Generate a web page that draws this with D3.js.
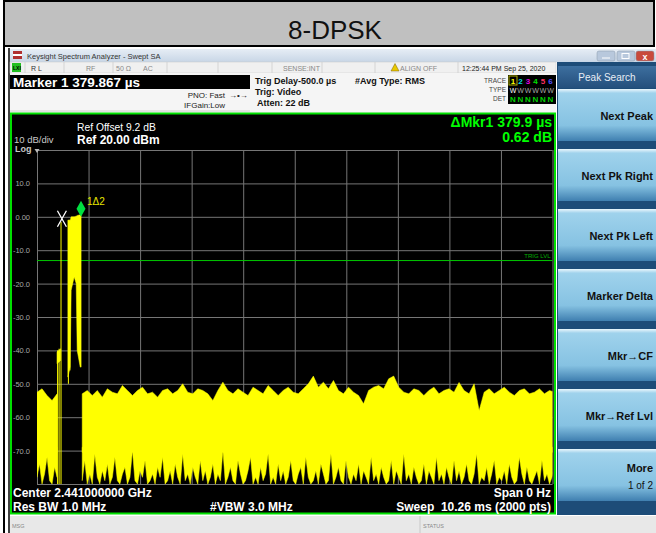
<!DOCTYPE html>
<html>
<head>
<meta charset="utf-8">
<script src="https://cdn.jsdelivr.net/npm/d3@7"></script>
<style>
  body { margin: 0; background: #fff; }
  svg { display: block; font-family: "Liberation Sans", Arial, sans-serif; }
</style>
</head>
<body>
<div class="container"></div>
<script>
// Sweep settings
const sweepMs = 10.26;
const refLevel = 20;
const bottomLevel = -80;

// Axis ticks / grid
const yTicks = [10, 0, -10, -20, -30, -40, -50, -60, -70];
const yTickLabels = ['10.0', '0.00', '-10.0', '-20.0', '-30.0', '-40.0', '-50.0', '-60.0', '-70.0'];
const yGridDb = [20, 10, 0, -10, -20, -30, -40, -50, -60, -70, -80];
const xGridMs = [0, 1.026, 2.052, 3.078, 4.104, 5.13, 6.156, 7.182, 8.208, 9.234, 10.26];

// Noise floor, upper edge: one reading every 0.1 ms (dBm)
const floorHiStepMs = 0.1;
const floorHi = [-52.5, -51.5, -53.5, -55, -53, null, null, null, null,
  -53, -52, -53.5, -52, -54, -51.5, -52.5, -53, -50.5, -52, -53.5,
  -52, -51, -53, -52.5, -54, -52, -51.5, -53, -52, -50,
  -52.5, -53, -51.5, -52, -53, -55, -52, -49.5, -52, -53,
  -51.5, -52.5, -53.5, -51, -52, -53, -50.5, -52, -53.5, -52,
  -51, -52.5, -53, -51.5, -50, -47.7, -51, -49.5, -51.5, -49,
  -52, -53, -51, -52.5, -53.5, -56, -52, -51, -50.5, -51.5,
  -48.5, -47.7, -51, -52.5, -53, -51.5, -52, -53.5, -52, -51,
  -53, -52, -51.5, -52.5, -49.6, -52, -53, -50, -58, -52.5,
  -51.5, -53, -52, -51, -52.5, -53.5, -52, -51.5, -53, -52.5,
  -51.5, -53, -52, -52.5];

// Noise floor: level down to which the band is solid
const floorSolidDb = -69;

// Noise floor, lower edge: one reading every 0.05 ms (dBm)
const floorLoStepMs = 0.05;
const floorLo = [-78, -74, -80, -77, -72, -79, -80, -75, -78,
  null, null, null, null, null, null, null, null, null,
  -79, -73, -80, -77, -80, -71, -78, -80, -76, -79,
  -74, -80, -78, -72, -79, -80, -77, -75, -80, -78,
  -70, -79, -80, -76, -78, -73, -80, -79, -77, -80,
  -75, -78, -72, -80, -79, -76, -80, -74, -78, -80,
  -71, -79, -77, -80, -75, -78, -80, -73, -79, -76,
  -80, -78, -74, -80, -77, -79, -70, -80, -78, -75,
  -79, -80, -73, -77, -80, -79, -76, -72, -80, -78,
  -80, -75, -79, -77, -71, -80, -78, -80, -74, -79,
  -76, -80, -78, -73, -79, -80, -77, -75, -80, -72,
  -78, -80, -79, -76, -80, -74, -77, -80, -79, -71,
  -80, -78, -75, -79, -80, -73, -78, -80, -77, -79,
  -74, -80, -76, -78, -80, -72, -79, -77, -80, -75,
  -78, -80, -79, -73, -80, -76, -78, -80, -71, -79,
  -77, -80, -75, -78, -80, -79, -74, -80, -76, -78,
  -80, -72, -79, -77, -80, -75, -78, -80, -73, -79,
  -76, -80, -78, -74, -79, -80, -77, -71, -80, -78,
  -79, -75, -80, -77, -73, -80, -78, -79, -76, -80,
  -74, -78, -80, -79, -72, -77, -80, -75, -79, -80,
  -78, -76, -80, -73, -79, -77, -80, -78, -75];

// The burst itself (ms, upper / lower edge in dBm)
const burstMs = [0.398, 0.472, 0.472, 0.615, 0.66, 0.68, 0.74, 0.78, 0.80, 0.86, 0.878];
const burstHi = [-40.5, -39.5, null, -1, -1, 0, 0, 0.2, 0.4, 0.6, 0.6];
const burstLo = [-44, -43, null, -48, -45, -22, -18, -20, -40, -45, -45];

// Thin single lines around the burst
const spikeMs = [0.41, 0.44, 0.478, 0.625, 0.655];
const spikeTop = [-40, -39.5, -1.5, -1, -1];
const spikeBottom = [-80, -80, -80, -50, -46];

const trigLevel = -13.1;
const refMarker = [0.496, -0.6];
const deltaMarker = [0.876, 0.0];

// Screen texts
const softkeys = ['Next Peak', 'Next Pk Right', 'Next Pk Left', 'Marker Delta', 'Mkr\u2192CF', 'Mkr\u2192Ref Lvl', 'More'];
const traceNums = ['1', '2', '3', '4', '5', '6'];
const traceColors = ['#ffff00', '#00e0e0', '#e000e0', '#00e000', '#ff3060', '#5050ff'];

// Variables
const width = 656;
const height = 533;
const plotLeft = 37, plotRight = 552.5, plotTop = 150, plotBottom = 484;
const yellow = '#ffff00';
const green = '#00ff00';

const svg = d3.select('.container')
  .append('svg')
  .attr('width', width)
  .attr('height', height);

const defs = svg.append('defs');

// gradient for the softkeys
const keyGrad = defs.append('linearGradient')
  .attr('id', 'keyGrad').attr('x1', 0).attr('y1', 0).attr('x2', 0).attr('y2', 1);
keyGrad.append('stop').attr('offset', '0%').attr('stop-color', '#eaf6fc');
keyGrad.append('stop').attr('offset', '8%').attr('stop-color', '#9fd2ec');
keyGrad.append('stop').attr('offset', '70%').attr('stop-color', '#86c2e2');
keyGrad.append('stop').attr('offset', '100%').attr('stop-color', '#3f7fb0');

const headGrad = defs.append('linearGradient')
  .attr('id', 'headGrad').attr('x1', 0).attr('y1', 0).attr('x2', 0).attr('y2', 1);
headGrad.append('stop').attr('offset', '0%').attr('stop-color', '#3d6f9f');
headGrad.append('stop').attr('offset', '100%').attr('stop-color', '#244f7c');

const barGrad = defs.append('linearGradient')
  .attr('id', 'barGrad').attr('x1', 0).attr('y1', 0).attr('x2', 0).attr('y2', 1);
barGrad.append('stop').attr('offset', '0%').attr('stop-color', '#e6edf5');
barGrad.append('stop').attr('offset', '100%').attr('stop-color', '#c8d6e6');

defs.append('clipPath').attr('id', 'plotClip')
  .append('rect')
  .attr('x', plotLeft).attr('y', plotTop)
  .attr('width', plotRight - plotLeft).attr('height', plotBottom - plotTop);

// Title cell
svg.append('rect')
  .attr('x', 4).attr('y', 1).attr('width', 650).attr('height', 45)
  .attr('fill', '#c0c0c0').attr('stroke', '#000').attr('stroke-width', 2);
svg.append('text')
  .attr('x', 335).attr('y', 39)
  .attr('text-anchor', 'middle')
  .attr('font-size', 26)
  .attr('fill', '#111')
  .text('8-DPSK');

// table borders down the sides
svg.append('line').attr('x1', 4).attr('x2', 4).attr('y1', 46).attr('y2', height)
  .attr('stroke', '#000').attr('stroke-width', 2);
svg.append('line').attr('x1', 9).attr('x2', 9).attr('y1', 48).attr('y2', height)
  .attr('stroke', '#000').attr('stroke-width', 1.5);

// Window title bar
svg.append('rect').attr('x', 10).attr('y', 49).attr('width', 646).attr('height', 13)
  .attr('fill', 'url(#barGrad)');
svg.append('rect').attr('x', 13).attr('y', 51).attr('width', 9).attr('height', 8).attr('fill', '#b03030');
svg.append('rect').attr('x', 13).attr('y', 54).attr('width', 9).attr('height', 2).attr('fill', '#fff');
svg.append('text').attr('x', 27).attr('y', 59).attr('font-size', 7.5).attr('fill', '#333')
  .text('Keysight Spectrum Analyzer - Swept SA');

// window buttons
[[597, '#b8c8dc'], [617, '#b8c8dc'], [636, '#c84a3c']].forEach((b) => {
  svg.append('rect').attr('x', b[0]).attr('y', 51).attr('width', 18).attr('height', 10)
    .attr('rx', 2).attr('fill', b[1]).attr('stroke', '#8899aa').attr('stroke-width', 0.5);
});
svg.append('line').attr('x1', 602).attr('x2', 610).attr('y1', 58).attr('y2', 58).attr('stroke', '#fff');
svg.append('rect').attr('x', 622).attr('y', 53.5).attr('width', 7).attr('height', 5)
  .attr('fill', 'none').attr('stroke', '#fff');
svg.append('text').attr('x', 645).attr('y', 59.5).attr('text-anchor', 'middle')
  .attr('font-size', 9).attr('font-weight', 'bold').attr('fill', '#fff').text('x');

// Status row
svg.append('rect').attr('x', 10).attr('y', 62).attr('width', 546).attr('height', 11)
  .attr('fill', '#f0f0f0').attr('stroke', '#c8c8c8').attr('stroke-width', 0.5);
[25, 64, 113, 167, 218, 272, 322, 375, 458].forEach((x) => {
  svg.append('line').attr('x1', x).attr('x2', x).attr('y1', 62).attr('y2', 73)
    .attr('stroke', '#c8c8c8').attr('stroke-width', 0.7);
});
svg.append('rect').attr('x', 12).attr('y', 63).attr('width', 9).attr('height', 9).attr('fill', '#22c022');
svg.append('text').attr('x', 13).attr('y', 70).attr('font-size', 5).attr('font-weight', 'bold').text('LXI');
[['R L', 31, '#333'], ['RF', 86, '#888'], ['50 \u03a9', 116, '#888'], ['AC', 143, '#888'],
 ['SENSE:INT', 283, '#888'], ['ALIGN OFF', 400, '#888'], ['12:25:44 PM Sep 25, 2020', 462, '#222']]
  .forEach((s) => {
    svg.append('text').attr('x', s[1]).attr('y', 71).attr('font-size', 7).attr('fill', s[2]).text(s[0]);
  });
svg.append('path').attr('d', 'M391,71 L395,63.5 L399,71 Z').attr('fill', '#e8c800').attr('stroke', '#806000').attr('stroke-width', 0.5);

// Settings area
svg.append('rect').attr('x', 10).attr('y', 73).attr('width', 546).attr('height', 40).attr('fill', '#f5f5f5');
svg.append('rect').attr('x', 10).attr('y', 75).attr('width', 240).attr('height', 14).attr('fill', '#000');
svg.append('text').attr('x', 13).attr('y', 87).attr('font-size', 13.5).attr('font-weight', 'bold')
  .attr('fill', '#fff').text('Marker 1 379.867 \u00b5s');
svg.append('line').attr('x1', 10).attr('x2', 250).attr('y1', 111).attr('y2', 111).attr('stroke', '#ccc');

[['PNO: Fast', 97.5], ['IFGain:Low', 107.5]].forEach((s) => {
  svg.append('text').attr('x', 225).attr('y', s[1]).attr('text-anchor', 'end')
    .attr('font-size', 8).attr('fill', '#222').text(s[0]);
});
svg.append('text').attr('x', 229).attr('y', 97.5).attr('font-size', 8).attr('fill', '#222').text('\u2192\u2022\u2192');

[['Trig Delay-500.0 \u00b5s', 255, 84], ['Trig: Video', 255, 95], ['Atten: 22 dB', 257, 106], ['#Avg Type: RMS', 355, 84]]
  .forEach((s) => {
    svg.append('text').attr('x', s[1]).attr('y', s[2]).attr('font-size', 9).attr('font-weight', 'bold')
      .attr('fill', '#111').text(s[0]);
  });

// Trace info block
[['TRACE', 83], ['TYPE', 92], ['DET', 101]].forEach((s) => {
  svg.append('text').attr('x', 506).attr('y', s[1]).attr('text-anchor', 'end')
    .attr('font-size', 6.5).attr('fill', '#444').text(s[0]);
});
svg.append('rect').attr('x', 508).attr('y', 75).attr('width', 48).attr('height', 29).attr('fill', '#000');
svg.append('rect').attr('x', 509).attr('y', 76).attr('width', 8).attr('height', 9)
  .attr('fill', 'none').attr('stroke', '#b0b000').attr('stroke-width', 1);
traceNums.forEach((n, i) => {
  svg.append('text').attr('x', 513 + i * 7.5).attr('y', 84).attr('text-anchor', 'middle')
    .attr('font-size', 8).attr('font-weight', 'bold').attr('fill', traceColors[i]).text(n);
  svg.append('text').attr('x', 513 + i * 7.5).attr('y', 93).attr('text-anchor', 'middle')
    .attr('font-size', 7).attr('fill', i === 0 ? '#fff' : '#aaa').text('W');
  svg.append('text').attr('x', 513 + i * 7.5).attr('y', 102).attr('text-anchor', 'middle')
    .attr('font-size', 8).attr('font-weight', 'bold').attr('fill', '#00d000').text('N');
});

// Plot frame
svg.append('rect').attr('x', 11).attr('y', 113.5).attr('width', 544).attr('height', 400)
  .attr('fill', '#000').attr('stroke', '#00e000').attr('stroke-width', 2);

// Scales
const xScale = d3.scaleLinear().domain([0, sweepMs]).range([plotLeft, plotRight]);
const yScale = d3.scaleLinear().domain([bottomLevel, refLevel]).range([plotBottom, plotTop]);

// Grid lines (through axes)
const xGrid = d3.axisBottom(xScale).tickValues(xGridMs).tickSize(-(plotBottom - plotTop)).tickFormat('');
svg.append('g')
  .attr('transform', `translate(0, ${plotBottom})`)
  .call(xGrid)
  .call((g) => g.select('.domain').remove())
  .call((g) => g.selectAll('line').attr('stroke', '#767676'));

const yGrid = d3.axisLeft(yScale).tickValues(yGridDb).tickSize(-(plotRight - plotLeft)).tickFormat('');
svg.append('g')
  .attr('transform', `translate(${plotLeft}, 0)`)
  .call(yGrid)
  .call((g) => g.select('.domain').remove())
  .call((g) => g.selectAll('line').attr('stroke', '#767676'));

// y labels
const yAxis = d3.axisLeft(yScale).tickValues(yTicks).tickSize(0).tickPadding(7)
  .tickFormat((d, i) => yTickLabels[i]);
svg.append('g')
  .attr('transform', `translate(${plotLeft}, 0)`)
  .call(yAxis)
  .call((g) => g.select('.domain').remove())
  .call((g) => g.selectAll('text')
    .attr('fill', '#a8a8a8')
    .attr('font-size', 7.5)
    .attr('font-family', '"Liberation Sans Narrow", "Arial Narrow", sans-serif'));

// Trigger level line
svg.append('line')
  .attr('x1', plotLeft).attr('x2', plotRight)
  .attr('y1', yScale(trigLevel)).attr('y2', yScale(trigLevel))
  .attr('stroke', '#00c800').attr('stroke-width', 1);
svg.append('text').attr('x', plotRight - 2).attr('y', yScale(trigLevel) - 3)
  .attr('text-anchor', 'end').attr('font-size', 6).attr('fill', '#00b000').text('TRIG LVL');

// Trace
const traceG = svg.append('g').attr('clip-path', 'url(#plotClip)');

// the solid band reaches a little below floorSolidDb so the two parts overlap without a seam
const hiData = floorHi.map((v, i) => ({ t: i * floorHiStepMs, hi: v, lo: v === null ? null : floorSolidDb - 1.5 }));
const loData = floorLo.map((v, i) => ({ t: i * floorLoStepMs, hi: v === null ? null : floorSolidDb, lo: v }));
const burstData = burstHi.map((v, i) => ({ t: burstMs[i], hi: v, lo: burstLo[i] }));

const band = d3.area()
  .defined((d) => d.hi !== null)
  .x((d) => xScale(d.t))
  .y0((d) => yScale(d.lo))
  .y1((d) => yScale(d.hi));

[hiData, loData, burstData].forEach((data) => {
  traceG.append('path').datum(data).attr('d', band)
    .attr('fill', yellow).attr('stroke', yellow).attr('stroke-width', 0.5);
});

traceG.selectAll('.spike')
  .data(spikeMs)
  .enter()
  .append('line')
  .attr('class', 'spike')
  .attr('x1', (d) => xScale(d)).attr('x2', (d) => xScale(d))
  .attr('y1', (d, i) => yScale(spikeTop[i]))
  .attr('y2', (d, i) => yScale(spikeBottom[i]))
  .attr('stroke', yellow).attr('stroke-width', 1);

// Markers
const rx = xScale(refMarker[0]), ry = yScale(refMarker[1]);
svg.append('path')
  .attr('d', `M${rx - 4.5},${ry - 8} L${rx + 4.5},${ry + 8} M${rx + 4.5},${ry - 8} L${rx - 4.5},${ry + 8}`)
  .attr('stroke', '#fff').attr('stroke-width', 1.3);

const mx = xScale(deltaMarker[0]), my = yScale(deltaMarker[1]);
svg.append('path')
  .attr('d', `M${mx},${my} L${mx + 4.5},${my - 8} L${mx},${my - 16} L${mx - 4.5},${my - 8} Z`)
  .attr('fill', '#00e040');
svg.append('text').attr('x', mx + 6).attr('y', my - 12).attr('font-size', 10)
  .attr('fill', '#e6e600').text('1\u03942');

// Plot texts
svg.append('text').attr('x', 77).attr('y', 130.5).attr('font-size', 10.3).attr('fill', '#fff').text('Ref Offset 9.2 dB');
svg.append('text').attr('x', 77).attr('y', 143.5).attr('font-size', 12).attr('font-weight', 'bold')
  .attr('fill', '#fff').text('Ref 20.00 dBm');
svg.append('text').attr('x', 14).attr('y', 142.5).attr('font-size', 9.5).attr('fill', '#c8c8c8').text('10 dB/div');
svg.append('text').attr('x', 15).attr('y', 152).attr('font-size', 9).attr('font-weight', 'bold')
  .attr('fill', '#c8c8c8').text('Log');
svg.append('path').attr('d', `M${plotLeft - 2.5},${plotTop - 1} L${plotLeft + 2.5},${plotTop - 1} L${plotLeft},${plotTop + 3} Z`)
  .attr('fill', '#bbb');

svg.append('text').attr('x', 552).attr('y', 126.5).attr('text-anchor', 'end').attr('font-size', 14)
  .attr('font-weight', 'bold').attr('fill', green).text('\u0394Mkr1 379.9 \u00b5s');
svg.append('text').attr('x', 552).attr('y', 141.5).attr('text-anchor', 'end').attr('font-size', 14)
  .attr('font-weight', 'bold').attr('fill', green).text('0.62 dB');

[['Center 2.441000000 GHz', 13, 497, 'start'], ['Span 0 Hz', 551, 497, 'end'],
 ['Res BW 1.0 MHz', 13, 511, 'start'], ['#VBW 3.0 MHz', 210, 511, 'start'],
 ['Sweep  10.26 ms (2000 pts)', 551, 511, 'end']].forEach((s) => {
  svg.append('text').attr('x', s[1]).attr('y', s[2]).attr('text-anchor', s[3])
    .attr('font-size', 12).attr('font-weight', 'bold').attr('fill', '#fff')
    .style('white-space', 'pre').text(s[0]);
});

// Softkey panel
svg.append('rect').attr('x', 557).attr('y', 62).attr('width', 99).attr('height', 453).attr('fill', '#1d4c78');
svg.append('rect').attr('x', 558).attr('y', 66).attr('width', 98).attr('height', 22).attr('fill', 'url(#headGrad)');
svg.append('text').attr('x', 607).attr('y', 80.5).attr('text-anchor', 'middle').attr('font-size', 10)
  .attr('fill', '#e8eef6').text('Peak Search');

softkeys.forEach((k, i) => {
  const top = 89 + i * 60;
  svg.append('rect').attr('x', 558).attr('y', top).attr('width', 98).attr('height', 52).attr('fill', 'url(#keyGrad)');
  svg.append('text').attr('x', 653).attr('y', i === 6 ? top + 23 : top + 31).attr('text-anchor', 'end')
    .attr('font-size', 11).attr('font-weight', 'bold').attr('fill', '#111').text(k);
});
svg.append('text').attr('x', 653).attr('y', 89 + 6 * 60 + 40).attr('text-anchor', 'end')
  .attr('font-size', 10).attr('fill', '#111').text('1 of 2');

// Message bar
svg.append('rect').attr('x', 10).attr('y', 516).attr('width', 646).attr('height', 17).attr('fill', '#e8e8e8');
svg.append('line').attr('x1', 420).attr('x2', 420).attr('y1', 516).attr('y2', 533).attr('stroke', '#c8c8c8');
svg.append('text').attr('x', 12).attr('y', 528).attr('font-size', 5.5).attr('fill', '#888').text('MSG');
svg.append('text').attr('x', 423).attr('y', 528).attr('font-size', 5.5).attr('fill', '#888').text('STATUS');
</script>
</body>
</html>
